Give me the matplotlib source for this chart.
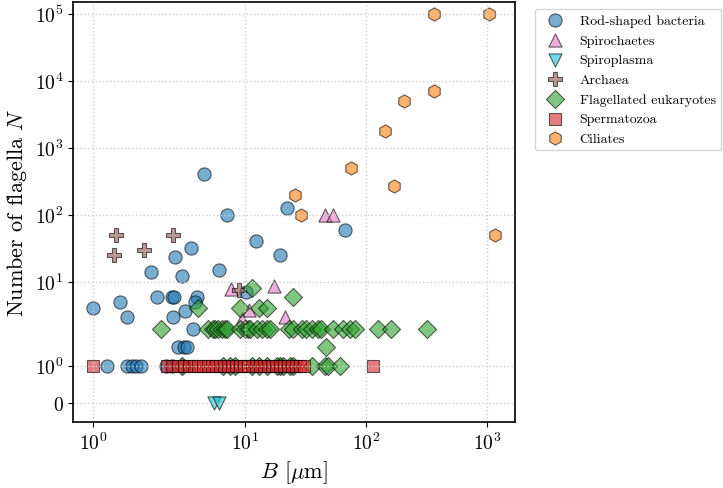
import matplotlib
matplotlib.use("Agg")
import matplotlib.pyplot as plt

plt.rcParams["font.family"] = "serif"
plt.rcParams["font.serif"] = ["cmr10", "DejaVu Serif"]
plt.rcParams["mathtext.fontset"] = "cm"
plt.rcParams["axes.formatter.use_mathtext"] = True

# data: body length B (um) and number of flagella N
rod_B = [4.6, 7.1, 22, 12.3, 3.57, 67, 19.3, 6.05, 2.64, 1.86, 3.03, 1.94, 2.5, 2.58,
         4.03, 3.86, 1.0, 1.4, 1.5, 2.55, 3.18, 3.69, 10.2, 2.77, 3.1, 3.28,
         1.2, 1.5, 1.57, 1.64, 1.71, 2.2, 2.5, 3.0]
rod_N = [400, 100, 125, 40, 32, 60, 25, 15, 23, 14, 12, 6, 6, 6,
         6, 5, 4, 5, 3, 3, 3.6, 2, 7, 1.5, 1.5, 1.5,
         1, 1, 1, 1, 1, 1, 1, 1]

spiro_B = [46, 53, 7.7, 17.3, 10.8, 21.4, 9.4]
spiro_N = [100, 100, 7.8, 8.7, 3.8, 3, 2.8]

plasma_B = [5.53, 6.13]
plasma_N = [0, 0]

arch_B = [1.34, 2.54, 1.30, 1.76, 8.96]
arch_N = [50, 50, 25, 30, 7.5]

euk_B = [2.0, 4.97, 5.4, 5.63, 6.0, 6.41, 6.8, 7.13, 9.07, 9.98, 10.5, 10.97, 12.5, 13.7,
         15.1, 16.1, 23.2, 25, 29.4, 31.9, 35.5, 40.3, 42.2, 53, 64.8, 73.6, 81, 126, 160, 317,
         4.05, 9.07, 13.1, 15.1,
         11.4, 25, 47,
         2.99, 6.61, 7.5, 8.26, 11.3, 12.9, 15.1, 18.3, 19.4, 20.7, 23.5, 25.0, 35.5, 45.7, 48.7, 60.8]
euk_N = [2] * 30 + [4] * 4 + [8, 6, 1.5] + [1] * 16

sperm_B = [1.0, 2.26, 2.49, 2.79, 3.13, 3.44, 3.78, 4.08, 4.49, 4.94, 5.33, 5.75, 6.2, 6.7,
           7.22, 7.79, 8.41, 9.08, 9.79, 10.6, 11.4, 12.3, 13.3, 14.3, 15.5, 16.7, 18.0,
           19.4, 21.0, 22.6, 24.4, 26.3, 28.4, 30.7, 113]
sperm_N = [1] * len(sperm_B)

cil_B = [364, 1037, 364, 206, 143, 75, 171, 25.7, 28.8, 1156]
cil_N = [1e5, 1e5, 7100, 5000, 1760, 500, 270, 200, 100, 50]

fig, ax = plt.subplots(figsize=(7.23, 4.89), dpi=100)
fig.subplots_adjust(left=0.1014, right=0.7123, top=0.9945, bottom=0.1356)

kw = dict(alpha=0.6, edgecolors="k", linewidths=0.8)
ax.scatter(rod_B, rod_N, marker="o", s=90, color="tab:blue", label="Rod-shaped bacteria", **kw)
ax.scatter(spiro_B, spiro_N, marker="^", s=90, color="tab:pink", label="Spirochaetes", **kw)
ax.scatter(plasma_B, plasma_N, marker="v", s=90, color="tab:cyan", label="Spiroplasma", **kw)
ax.scatter(arch_B, arch_N, marker="P", s=90, color="tab:brown", label="Archaea", **kw)
ax.scatter(euk_B, euk_N, marker="D", s=85, color="tab:green", label="Flagellated eukaryotes", **kw)
ax.scatter(sperm_B, sperm_N, marker="s", s=85, color="tab:red", label="Spermatozoa", **kw)
ax.scatter(cil_B, cil_N, marker="h", s=90, color="tab:orange", label="Ciliates", **kw)

ax.set_xscale("symlog", linthresh=2)
ax.set_yscale("symlog", linthresh=2)
ax.set_xlim(0.702, 1700)
ax.set_ylim(-0.503, 1.51e5)
ax.set_xticks([1, 10, 100, 1000])
ax.set_yticks([0, 1, 10, 100, 1000, 10000, 100000])
ax.minorticks_off()
ax.tick_params(labelsize=14)

ax.set_xlabel(r"$B$ [$\mu$m]", fontsize=16)
ax.set_ylabel(r"Number of flagella $N$", fontsize=16)
ax.grid(True, linestyle=":", color="#cccccc", linewidth=1)
for sp in ax.spines.values():
    sp.set_linewidth(1.2)

ax.legend(loc="upper left", bbox_to_anchor=(1.03, 1), fontsize=10)

fig.savefig("out.png", dpi=100)
